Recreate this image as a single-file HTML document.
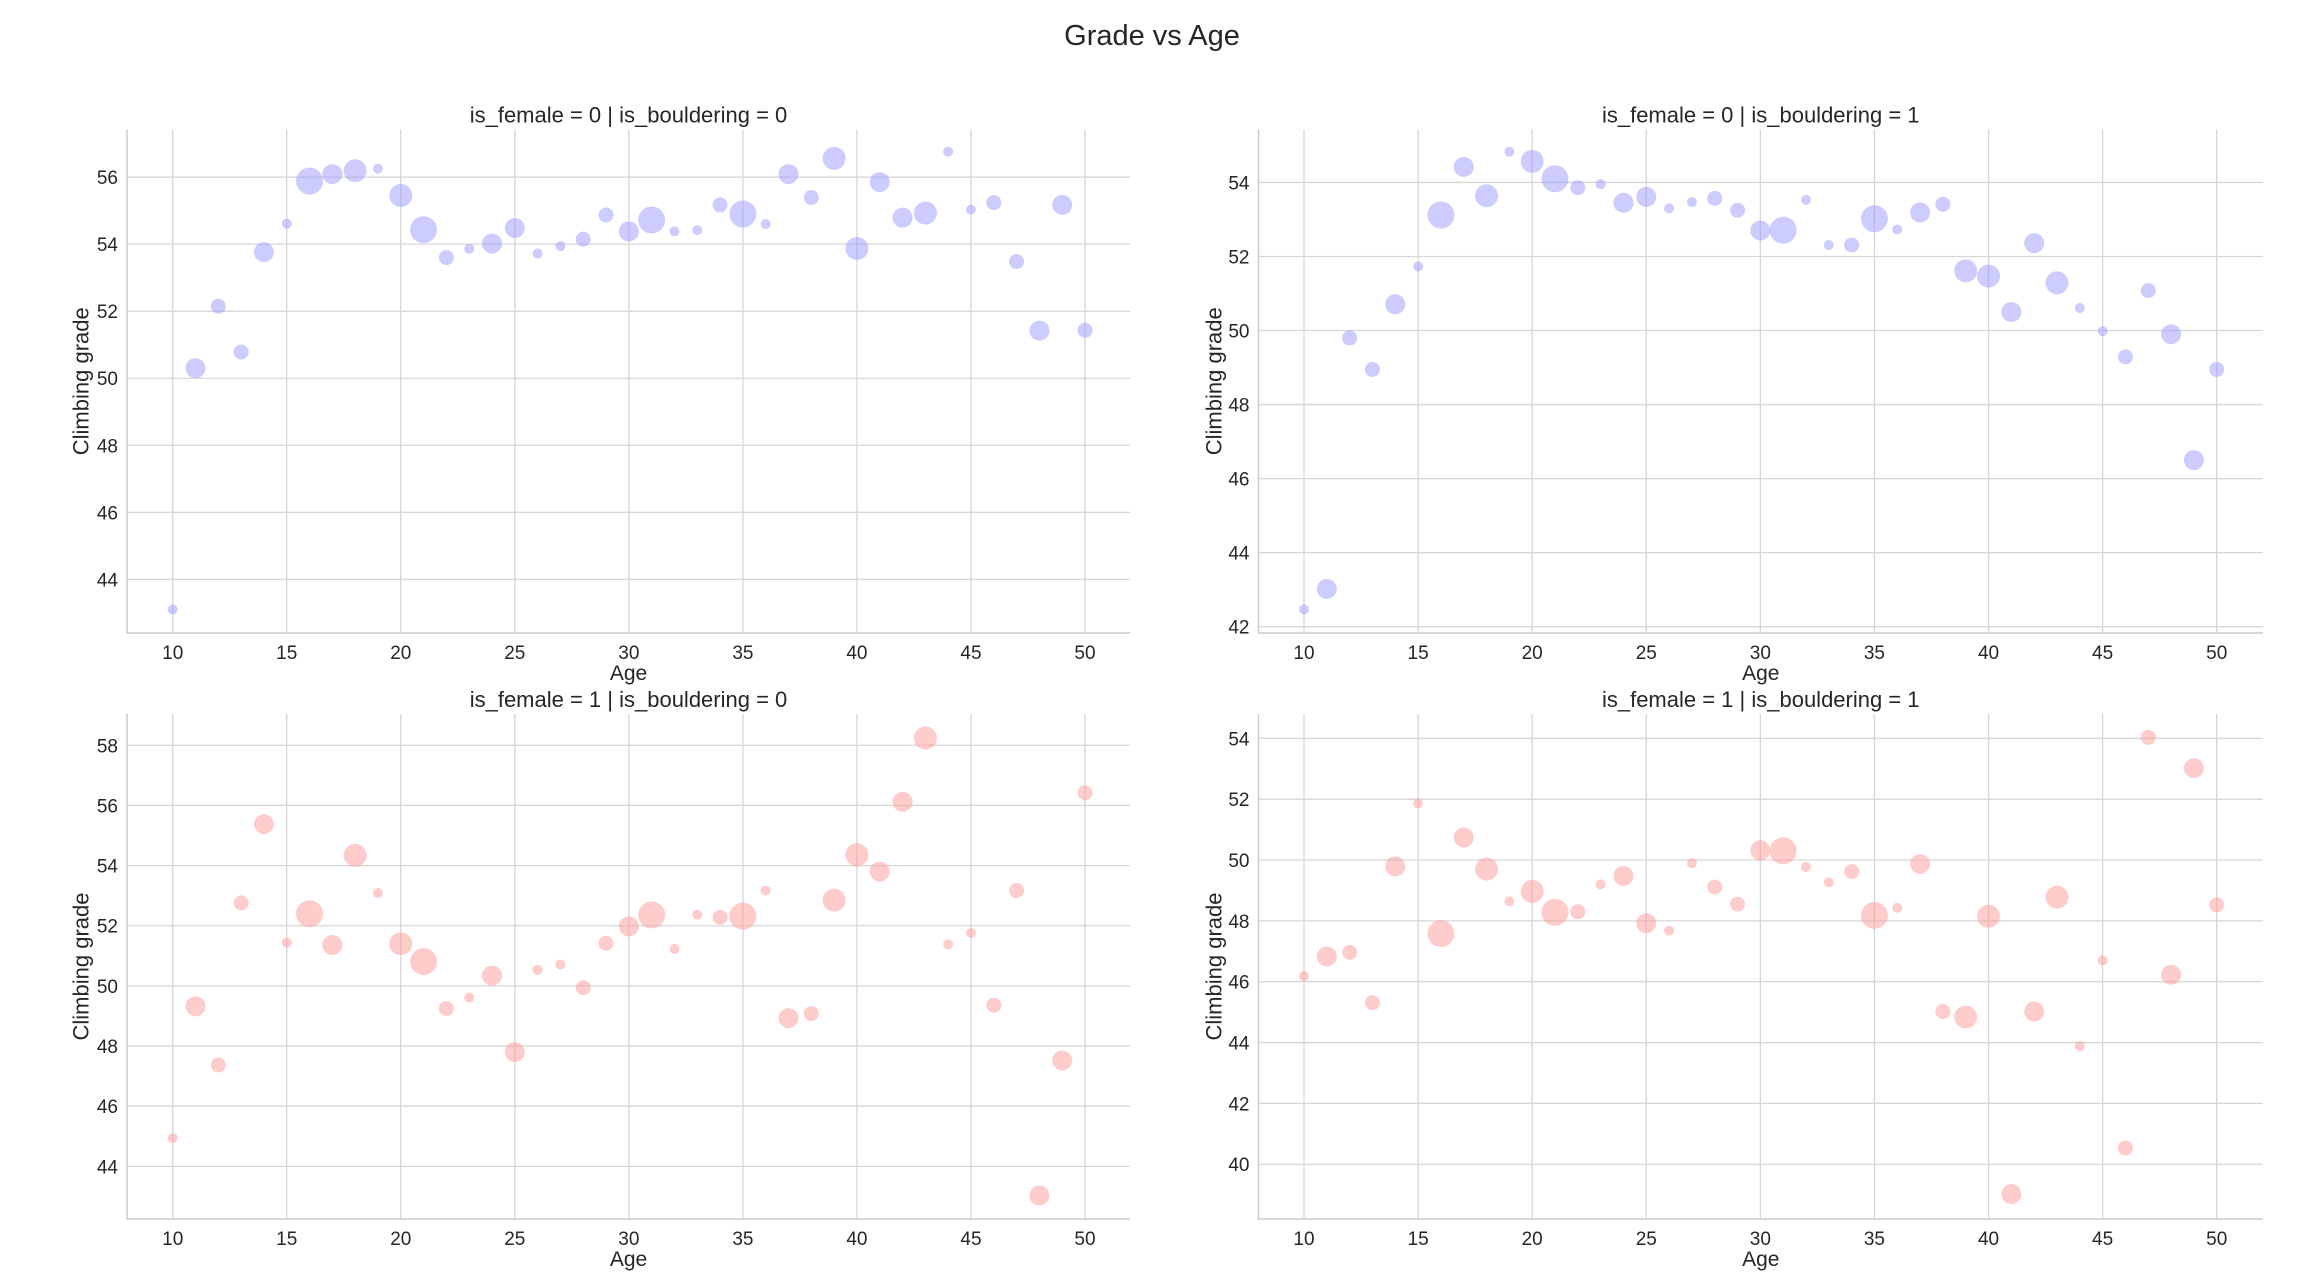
<!DOCTYPE html>
<html><head><meta charset="utf-8"><style>
html,body{margin:0;padding:0;background:#fff;}
svg{display:block;font-family:"Liberation Sans",Arial,sans-serif;}
</style></head><body>
<svg id="chart" width="2304" height="1287" viewBox="0 0 2304 1287" xmlns="http://www.w3.org/2000/svg">
<text x="1152" y="45" text-anchor="middle" font-size="29" fill="#262626">Grade vs Age</text>
</svg>
<script>
const ages = [10,11,12,13,14,15,16,17,18,19,20,21,22,23,24,25,26,27,28,29,30,31,32,33,34,35,36,37,38,39,40,41,42,43,44,45,46,47,48,49,50];
const sizeLevels = [1,3,2,2,3,1,5,3,4,1,4,5,2,1,3,3,1,1,2,2,3,5,1,1,2,5,1,3,2,4,4,3,3,4,1,1,2,2,3,3,2];
const gradeM0B0 = [43.1,50.3,52.15,50.78,53.76,54.61,55.88,56.09,56.19,56.25,55.45,54.43,53.6,53.86,54.02,54.48,53.72,53.94,54.15,54.87,54.38,54.72,54.38,54.42,55.17,54.9,54.6,56.09,55.39,56.56,53.87,55.85,54.79,54.93,56.76,55.03,55.24,53.48,51.42,55.17,51.43];
const gradeM0B1 = [42.47,43.02,49.8,48.95,50.71,51.73,53.12,54.42,53.64,54.83,54.57,54.1,53.86,53.95,53.45,53.61,53.3,53.47,53.57,53.25,52.7,52.71,53.53,52.31,52.31,53.02,52.73,53.19,53.41,51.61,51.47,50.5,52.36,51.29,50.61,49.98,49.29,51.08,49.9,46.5,48.95];
const gradeF1B0 = [44.94,49.32,47.37,52.76,55.38,51.44,52.4,51.36,54.34,53.09,51.4,50.81,49.25,49.61,50.34,47.8,50.53,50.71,49.94,51.42,51.98,52.36,51.23,52.37,52.28,52.32,53.17,48.93,49.08,52.85,54.36,53.8,56.12,58.24,51.38,51.76,49.36,53.17,43.03,47.52,56.42];
const gradeF1B1 = [46.19,46.83,46.96,45.31,49.79,51.86,47.58,50.74,49.7,48.64,48.97,48.28,48.3,49.2,49.48,47.92,47.68,49.9,49.11,48.55,50.32,50.3,49.77,49.27,49.62,48.18,48.43,49.87,45.02,44.84,48.15,39.02,45.02,48.78,43.88,46.7,40.53,54.03,46.23,53.02,48.52];
const xTicks = [10,15,20,25,30,35,40,45,50];
const yTicksTL = [44,46,48,50,52,54,56];
const yTicksTR = [42,44,46,48,50,52,54];
const yTicksBL = [44,46,48,50,52,54,56,58];
const yTicksBR = [40,42,44,46,48,50,52,54];

const NS="http://www.w3.org/2000/svg";
const svg=document.getElementById('chart');
const diam={1:10,2:15,3:20,4:23,5:27};
function el(t,a,p){const e=document.createElementNS(NS,t);for(const k in a)e.setAttribute(k,a[k]);(p||svg).appendChild(e);return e;}

const panels=[
 {name:'panel-male-rope',title:'is_female = 0 | is_bouldering = 0',vals:gradeM0B0,yt:yTicksTL,L:127,R:1130,T:129.5,B:633,x0:172.7,x1:1085,ylo:42.4,yhi:57.42,col:'rgba(153,153,255,0.5)',yl:81},
 {name:'panel-male-boulder',title:'is_female = 0 | is_bouldering = 1',vals:gradeM0B1,yt:yTicksTR,L:1258.5,R:2263,T:129.5,B:633,x0:1304,x1:2216.7,ylo:41.83,yhi:55.43,col:'rgba(153,153,255,0.5)',yl:1214},
 {name:'panel-female-rope',title:'is_female = 1 | is_bouldering = 0',vals:gradeF1B0,yt:yTicksBL,L:127,R:1130,T:714,B:1219,x0:172.7,x1:1085,ylo:42.25,yhi:59.04,col:'rgba(255,153,153,0.5)',yl:81},
 {name:'panel-female-boulder',title:'is_female = 1 | is_bouldering = 1',vals:gradeF1B1,yt:yTicksBR,L:1258.5,R:2263,T:714,B:1219,x0:1304,x1:2216.7,ylo:38.2,yhi:54.8,col:'rgba(255,153,153,0.5)',yl:1214}
];
panels.forEach(p=>{
  const g=el('g',{});
  
  
  const xs=v=>p.x0+(v-10)*(p.x1-p.x0)/40;
  const ys=v=>p.B-(v-p.ylo)*(p.B-p.T)/(p.yhi-p.ylo);
  xTicks.forEach(t=>{
    const l=el('line',{x1:xs(t),x2:xs(t),y1:p.T,y2:p.B,stroke:'#d6d6d6','stroke-width':1.3},g);
    
    
    const tx=el('text',{x:xs(t),y:p.B+26,'text-anchor':'middle','font-size':19,fill:'#262626'},g);
    tx.textContent=t;
    
    
  });
  p.yt.forEach(t=>{
    const l=el('line',{x1:p.L,x2:p.R,y1:ys(t),y2:ys(t),stroke:'#d6d6d6','stroke-width':1.3},g);
    
    
    const tx=el('text',{x:p.L-9,y:ys(t)+7,'text-anchor':'end','font-size':19,fill:'#262626'},g);
    tx.textContent=t;
    
    
  });
  const sp=el('path',{d:`M${p.L},${p.T}V${p.B}H${p.R}`,fill:'none',stroke:'#cccccc','stroke-width':1.5},g);
  
  
  ages.forEach((a,i)=>{
    const c=el('circle',{cx:xs(a),cy:ys(p.vals[i]),r:diam[sizeLevels[i]]/2,fill:p.col},g);
    
    
  });
  const tt=el('text',{x:(p.L+p.R)/2,y:p.T-7,'text-anchor':'middle','font-size':22,fill:'#262626'},g);
  tt.textContent=p.title;
  
  
  const xl=el('text',{x:(p.L+p.R)/2,y:p.B+47,'text-anchor':'middle','font-size':21,fill:'#262626'},g);
  xl.textContent='Age';
  
  
  const cy=(p.T+p.B)/2;
  const yl=el('text',{x:p.yl,y:cy,'text-anchor':'middle','font-size':22,fill:'#262626',transform:`rotate(-90 ${p.yl} ${cy})`,dy:'0.35em'},g);
  yl.textContent='Climbing grade';
  
  
});
</script>
</body></html>
